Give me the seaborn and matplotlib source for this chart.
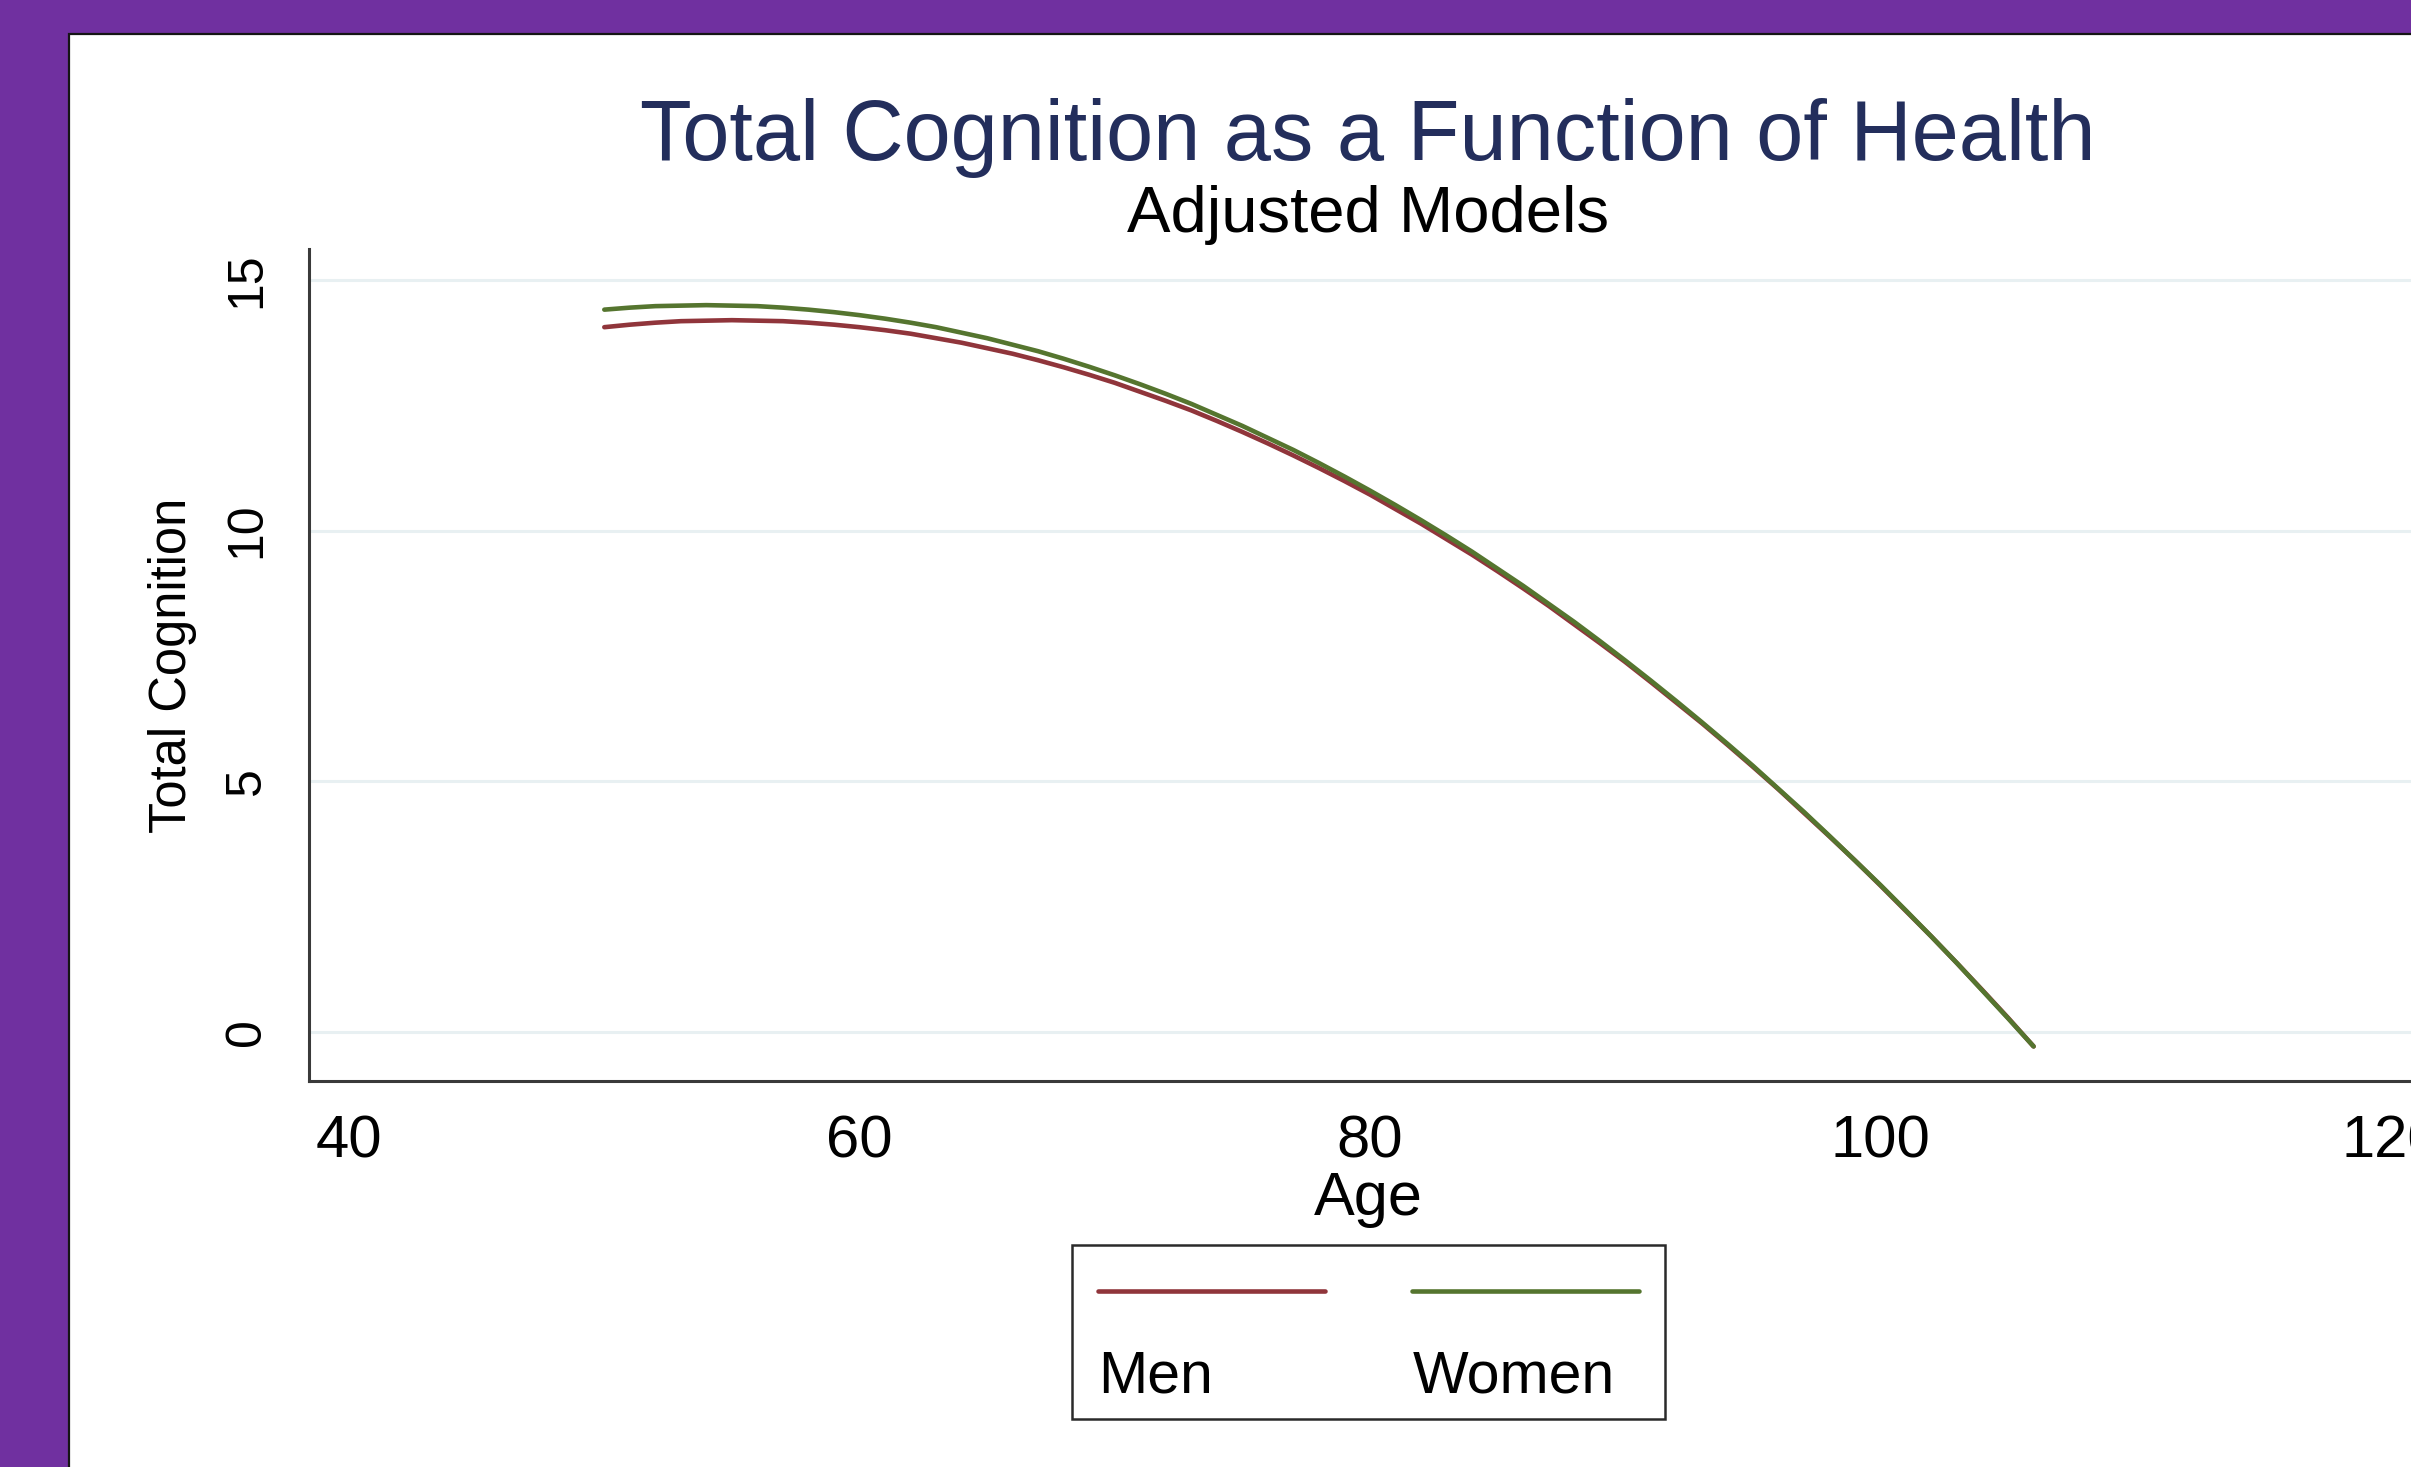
import numpy as np
import pandas as pd
import seaborn as sns
import matplotlib.pyplot as plt
from matplotlib.lines import Line2D
from matplotlib.patches import Rectangle
from matplotlib.offsetbox import AnchoredOffsetbox, DrawingArea, HPacker, VPacker, TextArea

# =====================
# DATA (one point per year of age)
# =====================
AGE = list(range(50, 107))

MEN = [14.06, 14.11, 14.15, 14.18, 14.19, 14.20, 14.19, 14.18, 14.15, 14.11,
       14.06, 14.00, 13.93, 13.84, 13.75, 13.64, 13.53, 13.40, 13.26, 13.11,
       12.95, 12.77, 12.59, 12.40, 12.19, 11.97, 11.74, 11.50, 11.25, 10.99,
       10.72, 10.43, 10.14, 9.83, 9.52, 9.19, 8.85, 8.50, 8.13, 7.76,
       7.38, 6.98, 6.57, 6.16, 5.73, 5.29, 4.84, 4.37, 3.90, 3.42,
       2.92, 2.41, 1.90, 1.37, 0.83, 0.28, -0.29]

WOMEN = [14.41, 14.45, 14.48, 14.49, 14.50, 14.49, 14.48, 14.45, 14.41, 14.36,
         14.30, 14.23, 14.15, 14.06, 13.95, 13.84, 13.71, 13.58, 13.43, 13.27,
         13.10, 12.92, 12.73, 12.53, 12.31, 12.09, 11.85, 11.61, 11.35, 11.08,
         10.80, 10.51, 10.21, 9.90, 9.58, 9.24, 8.90, 8.54, 8.18, 7.80,
         7.41, 7.01, 6.60, 6.18, 5.75, 5.31, 4.85, 4.39, 3.91, 3.42,
         2.93, 2.42, 1.90, 1.37, 0.82, 0.27, -0.29]

SERIES = ["Men", "Women"]
COLORS = ["#90353B", "#55752F"]

X_TICKS = [40, 60, 80, 100, 120]
Y_TICKS = [0, 5, 10, 15]

TITLE = "Total Cognition as a Function of Health"
SUBTITLE = "Adjusted Models"

# =====================
# STYLE
# =====================
W, H, DPI = 2411, 1467, 100
sns.set_style("white")
plt.rcParams["font.family"] = ["Liberation Sans", "DejaVu Sans"]
plt.rcParams["text.color"] = "black"
plt.rcParams["axes.labelcolor"] = "black"

df = pd.concat([
    pd.DataFrame({"Age": AGE, "Total Cognition": MEN, "Sex": "Men"}),
    pd.DataFrame({"Age": AGE, "Total Cognition": WOMEN, "Sex": "Women"}),
])

fig = plt.figure(figsize=(W / DPI, H / DPI), dpi=DPI, facecolor="#7030A0")

# white panel with thin dark border (runs off the right/bottom edge)
panel = Rectangle((69 / W, -0.02), 1.05, 1.02 - 34 / H, transform=fig.transFigure,
                  facecolor="white", edgecolor="#151515", linewidth=1.6, zorder=-1)
fig.add_artist(panel)

ax = fig.add_axes([309 / W, 1 - 1081 / H, 2122 / W, 832 / H])
ax.set_facecolor("white")

sns.lineplot(data=df, x="Age", y="Total Cognition", hue="Sex", hue_order=SERIES,
             palette=COLORS, linewidth=3.3, errorbar=None, legend=False, ax=ax)

ax.set_xlim(38.43, 121.57)
ax.set_ylim(-0.98, 15.62)
ax.set_xticks(X_TICKS)
ax.set_yticks(Y_TICKS)
ax.set_xticklabels([str(t) for t in X_TICKS], fontsize=43)
ax.set_yticklabels([str(t) for t in Y_TICKS], fontsize=36, rotation=90, va="center")
ax.tick_params(axis="x", length=14, width=1.6, color="#3a3a3a", labelcolor="black",
               pad=10, direction="out")
ax.tick_params(axis="y", length=16, width=1.6, color="#3a3a3a", labelcolor="black",
               pad=12, direction="out")

ax.grid(axis="y", color="#E8F0F2", linewidth=2.2)
ax.grid(axis="x", visible=False)
ax.set_axisbelow(True)

for side in ["top", "right"]:
    ax.spines[side].set_visible(False)
for side in ["left", "bottom"]:
    ax.spines[side].set_color("#3a3a3a")
    ax.spines[side].set_linewidth(2.2)

ax.set_xlabel("Age", fontsize=44)
ax.xaxis.set_label_coords(0.499, -0.108)
ax.set_ylabel("Total Cognition", fontsize=36.5)
ax.yaxis.set_label_coords(-0.053, 0.5)

fig.text(1368 / W, 1 - 160 / H, TITLE, fontsize=61, color="#232E5C",
         ha="center", va="baseline")
fig.text(1368 / W, 1 - 232 / H, SUBTITLE, fontsize=47, color="black",
         ha="center", va="baseline")

# =====================
# LEGEND (Stata style: key above its label)
# =====================
items = []
for name, line in zip(SERIES, ax.get_lines()):
    key = DrawingArea(163, 27)
    key.add_artist(Line2D([0, 163], [5, 5], color=line.get_color(), linewidth=3.3))
    label = TextArea(name, textprops=dict(fontsize=42.5, color="black"))
    items.append(VPacker(children=[key, label], sep=37, align="left"))

content = HPacker(children=[DrawingArea(8, 0),
                            HPacker(children=items, sep=63, align="top"),
                            DrawingArea(8, 0)],
                  sep=0, align="top")

leg = AnchoredOffsetbox(loc="upper left", child=content,
                        pad=1.0, prop=dict(size=11), borderpad=0, frameon=True,
                        bbox_to_anchor=(1072 / W, 1 - 1245 / H),
                        bbox_transform=fig.transFigure)
leg.patch.set_edgecolor("#2a2a2a")
leg.patch.set_linewidth(1.8)
fig.add_artist(leg)

fig.savefig("out.png", dpi=DPI, facecolor=fig.get_facecolor())
